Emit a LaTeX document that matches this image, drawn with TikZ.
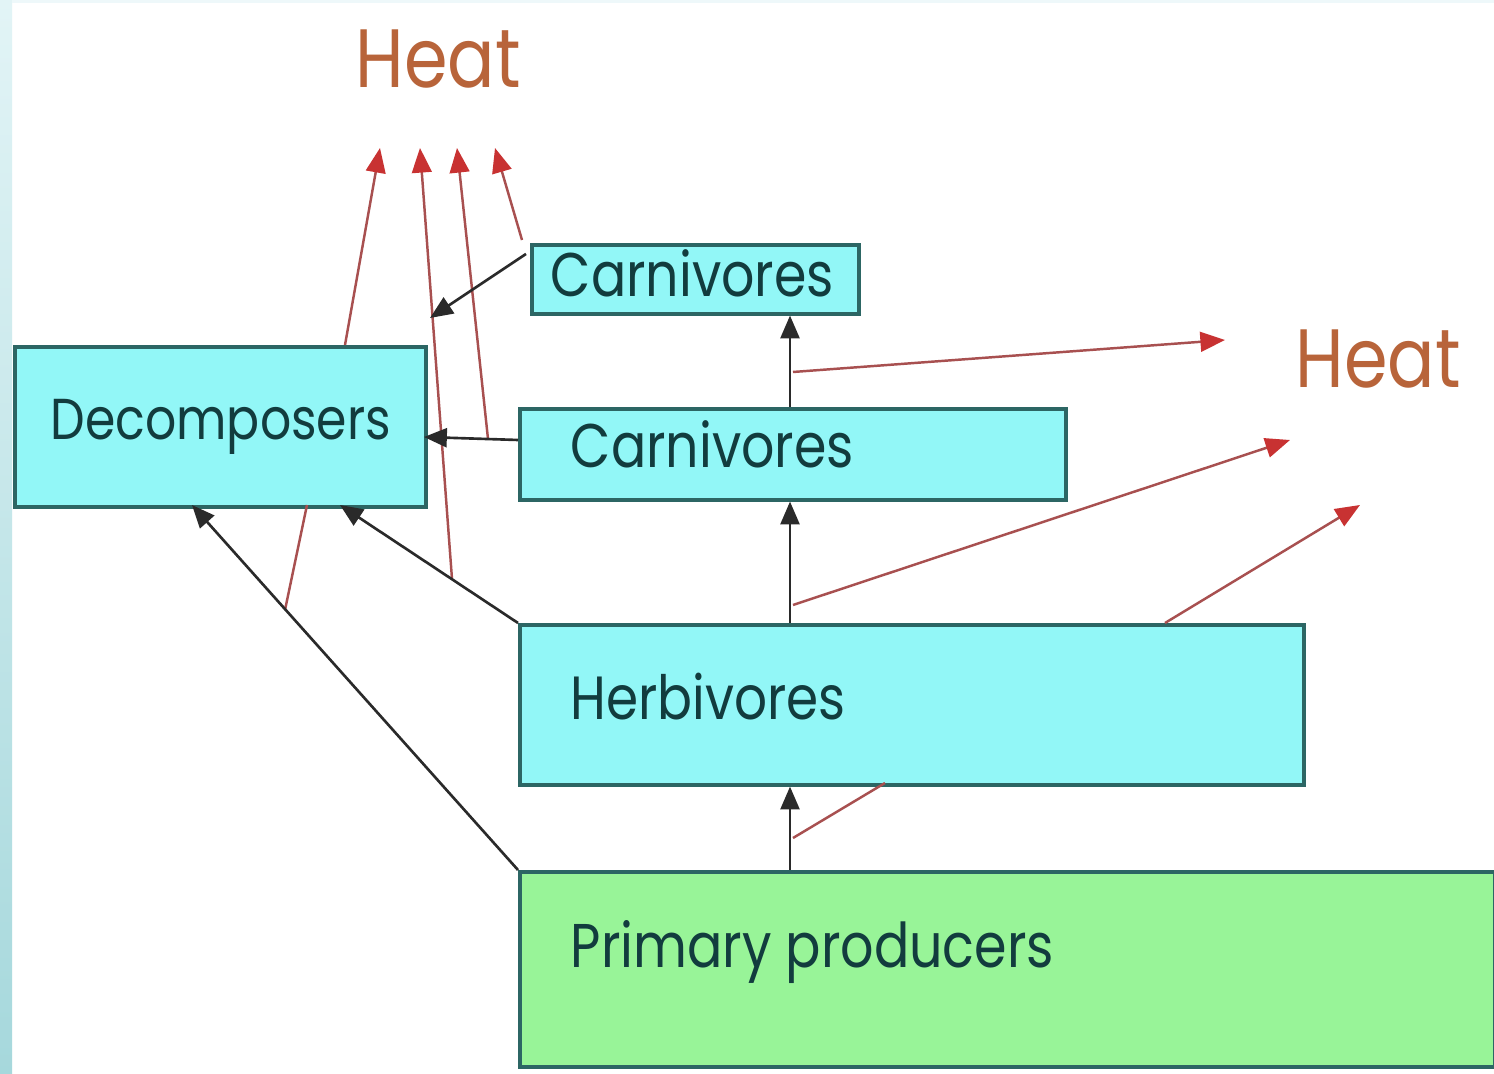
\documentclass[tikz,border=0pt]{standalone}
\usepackage{fontspec}
\setmainfont{Poppins}
\usetikzlibrary{arrows.meta,calc}
\definecolor{boxcyan}{HTML}{92F7F7}
\definecolor{boxgreen}{HTML}{98F498}
\definecolor{boxline}{HTML}{2C6664}
\definecolor{txt}{HTML}{123C3E}
\definecolor{heatc}{HTML}{B8643A}
\definecolor{lineblk}{HTML}{2A2A2A}
\definecolor{linered}{HTML}{A85050}
\definecolor{headred}{HTML}{C83232}
\definecolor{stripT}{HTML}{E2F4F6}
\definecolor{stripB}{HTML}{A6D8DC}
\newcommand\fitlabel[2]{\resizebox{#1}{!}{\scalebox{1}[1.18]{#2}}}
\begin{document}
\begin{tikzpicture}[x=0.01cm,y=-0.01cm,
  box/.style={draw=boxline, line width=1pt, fill=boxcyan, inner sep=0pt, anchor=north west},
  gbox/.style={box, fill=boxgreen},
  lbl/.style={text=txt, inner sep=0pt, anchor=base west, font=\fontsize{16pt}{18pt}\selectfont},
  hlbl/.style={text=heatc, inner sep=0pt, anchor=base west, font=\fontsize{20pt}{22pt}\selectfont},
  blk/.style={draw=lineblk, line width=0.75pt, -{Triangle[length=6.5pt,width=5.4pt]}},
  heatarrow/.style={draw=linered, line width=0.7pt, -{Triangle[length=7pt,width=5.6pt,color=headred]}},
  heatline/.style={draw=linered, line width=0.7pt}]
\useasboundingbox (0,0) rectangle (1494,1074);
\fill[white] (0,0) rectangle (1494,1074);
\shade[top color=stripT, bottom color=stripB] (0,0) rectangle (12,1074);
\fill[stripT!60!white] (12,0) rectangle (1494,3);

% boxes
\node[box, minimum width=4.11cm, minimum height=1.60cm] (dec) at (13,345) {};
\node[box, minimum width=3.27cm, minimum height=0.69cm] (carT) at (530,243) {};
\node[box, minimum width=5.46cm, minimum height=0.91cm] (carM) at (518,407) {};
\node[box, minimum width=7.84cm, minimum height=1.60cm] (herb) at (518,623) {};
\node[gbox, minimum width=9.74cm, minimum height=1.95cm] (prim) at (518,870) {};

% labels
\node[lbl] (decT) at (50,440) {\fitlabel{3.40cm}{Decomposers}};
\node[lbl] (carTT) at (550,297) {\fitlabel{2.83cm}{Carnivores}};
\node[lbl] (carMT) at (570,468) {\fitlabel{2.83cm}{Carnivores}};
\node[lbl] (herbT) at (570,720) {\fitlabel{2.75cm}{Herbivores}};
\node[lbl] (primT) at (570,968) {\fitlabel{4.83cm}{Primary producers}};
\node[hlbl] (heatT) at (355,88) {\fitlabel{1.65cm}{Heat}};
\node[hlbl] (heatR) at (1295,388) {\fitlabel{1.65cm}{Heat}};

% named coordinates
\coordinate (pu) at (790,870);
\coordinate (dA) at (192,505);
\coordinate (dB) at (340,505);
\coordinate (cmL) at (518,440);
\coordinate (dR) at (424,437);
\coordinate (ctL) at (526,254);
\coordinate (ctTip) at (430,318);
\coordinate (h1) at (380,148);
\coordinate (h2) at (420,148);
\coordinate (h3) at (457,148);
\coordinate (h4) at (495,148);
\coordinate (dTop) at (345,345);
\coordinate (bB) at (452,579);
\coordinate (bC) at (488,439);
\coordinate (ctTop) at (522,240);
\coordinate (bA) at (285,610);
\coordinate (dBot) at (307,505);
\coordinate (m1) at (793,372);
\coordinate (m2) at (793,605);
\coordinate (m3) at (793,838);
\coordinate (hr1) at (1225,340);
\coordinate (hr2) at (1290,440);
\coordinate (hr3) at (1360,505);
\coordinate (hTop) at (1165,623);
\coordinate (hBot) at (885,783);

% red heat lines
\draw[heatarrow] (dTop) -- (h1);
\draw[heatarrow] (bB) -- (h2);
\draw[heatarrow] (bC) -- (h3);
\draw[heatarrow] (ctTop) -- (h4);
\draw[heatline] (bA) -- (dBot);
\draw[heatarrow] (m1) -- (hr1);
\draw[heatarrow] (m2) -- (hr2);
\draw[heatarrow] (hTop) -- (hr3);
\draw[heatline] (m3) -- (hBot);

% black energy flow arrows
\draw[blk] (pu) -- (pu |- herb.south);
\draw[blk] (herb.north -| pu) -- (carM.south -| pu);
\draw[blk] (carM.north -| pu) -- (carT.south -| pu);
\draw[blk] (prim.north west) -- (dA);
\draw[blk] (herb.north west) -- (dB);
\draw[blk] (cmL) -- (dR);
\draw[blk] (ctL) -- (ctTip);
\end{tikzpicture}
\end{document}
